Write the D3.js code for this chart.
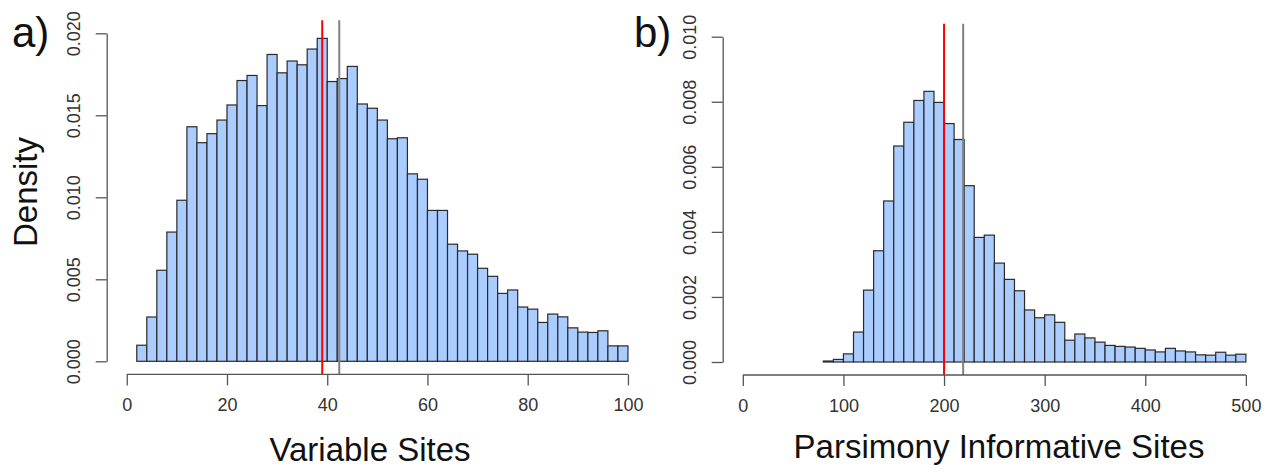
<!DOCTYPE html>
<html>
<head>
<meta charset="utf-8">
<script src="https://cdn.jsdelivr.net/npm/d3@7"></script>
<style>
  body { margin: 0; background: #fff; }
  svg { display: block; font-family: "Liberation Sans", Arial, sans-serif; }
</style>
</head>
<body>
<svg width="1272" height="473"></svg>
<script>
// DATA

// a) Variable Sites, bins of width 2
var binStartsA = [2, 4, 6, 8, 10, 12, 14, 16, 18, 20, 22, 24, 26, 28, 30, 32, 34, 36, 38, 40,
                  42, 44, 46, 48, 50, 52, 54, 56, 58, 60, 62, 64, 66, 68, 70, 72, 74, 76, 78, 80,
                  82, 84, 86, 88, 90, 92, 94, 96, 98];
var densityA = [0.00098, 0.0027, 0.00555, 0.00788, 0.00982, 0.0143, 0.01333, 0.01388, 0.01471, 0.01563,
                0.01712, 0.01743, 0.01559, 0.01871, 0.01759, 0.01831, 0.01808, 0.01904, 0.01969, 0.01706,
                0.01724, 0.01798, 0.01569, 0.01543, 0.01471, 0.01357, 0.01363, 0.01143, 0.0111, 0.0092,
                0.0092, 0.00714, 0.00673, 0.00653, 0.00567, 0.00518, 0.00414, 0.00435, 0.00331, 0.00318,
                0.00237, 0.00288, 0.00271, 0.00204, 0.00178, 0.00176, 0.00186, 0.00094, 0.00094];
var binWidthA = 2;
var linesA = [39, 42.4];          // red, grey
var xTicksA = [0, 20, 40, 60, 80, 100];
var yTicksA = ["0.000", "0.005", "0.010", "0.015", "0.020"];

// b) Parsimony Informative Sites, bins of width 10
var binStartsB = [80, 90, 100, 110, 120, 130, 140, 150, 160, 170, 180, 190, 200, 210, 220, 230, 240,
                  250, 260, 270, 280, 290, 300, 310, 320, 330, 340, 350, 360, 370, 380, 390, 400,
                  410, 420, 430, 440, 450, 460, 470, 480, 490];
var densityB = [0.00003, 0.00008, 0.00025, 0.00092, 0.00221, 0.00342, 0.00495, 0.00664, 0.00737, 0.00804,
                0.00832, 0.00798, 0.00733, 0.00684, 0.00542, 0.00383, 0.0039, 0.00304, 0.00254, 0.00219,
                0.0016, 0.00136, 0.00145, 0.00122, 0.00067, 0.00086, 0.00074, 0.00061, 0.00051, 0.00048,
                0.00046, 0.00042, 0.00037, 0.00031, 0.00042, 0.00034, 0.00031, 0.00022, 0.00021, 0.0003,
                0.00021, 0.00024];
var binWidthB = 10;
var linesB = [200, 219];
var xTicksB = [0, 100, 200, 300, 400, 500];
var yTicksB = ["0.000", "0.002", "0.004", "0.006", "0.008", "0.010"];

var barFill = "#aaccff";
var lineColors = ["#ff0000", "#808080"];

// VIEW

var svg = d3.select("svg");

// draw one histogram panel
function drawPanel(p) {
  var x = d3.scaleLinear().domain(p.xDomain).range(p.xRange),
      y = d3.scaleLinear().domain([0, +p.yTicks[p.yTicks.length - 1]]).range(p.yRange);

  var ySpan = y.domain()[1] * 0.04;
  var top = y(y.domain()[1] + ySpan),
      bottom = y(-ySpan),
      left = p.xRange[0];

  var g = svg.append("g");

  // bars
  g.append("g").selectAll("rect")
    .data(p.starts.map(function(s, i) { return {x0: s, x1: s + p.binWidth, d: p.dens[i]}; }))
    .enter().append("rect")
      .attr("x", function(d) { return x(d.x0); })
      .attr("width", function(d) { return x(d.x1) - x(d.x0); })
      .attr("y", function(d) { return y(d.d); })
      .attr("height", function(d) { return y(0) - y(d.d); })
      .attr("fill", barFill)
      .attr("stroke", "#2a2a2a")
      .attr("stroke-width", 1.2);

  // vertical reference lines
  g.append("g").selectAll("line")
    .data(p.lines)
    .enter().append("line")
      .attr("x1", function(d) { return x(d); })
      .attr("x2", function(d) { return x(d); })
      .attr("y1", top)
      .attr("y2", bottom)
      .attr("stroke", function(d, i) { return lineColors[i]; })
      .attr("stroke-width", 2);

  // x axis
  var xAxis = d3.axisBottom(x).tickValues(p.xTicks).tickSize(11).tickPadding(8).tickSizeOuter(0);
  var gx = g.append("g").attr("transform", "translate(0," + bottom + ")").call(xAxis);
  gx.select(".domain").attr("d", "M" + x(p.xTicks[0]) + ",0H" + x(p.xTicks[p.xTicks.length - 1]));

  // y axis
  var yAxis = d3.axisLeft(y).tickValues(p.yTicks.map(Number)).tickSize(11).tickSizeOuter(0)
    .tickFormat(function(d, i) { return p.yTicks[i]; });
  var gy = g.append("g").attr("transform", "translate(" + left + ",0)").call(yAxis);
  gy.selectAll(".tick text")
    .attr("x", null).attr("dy", null)
    .attr("text-anchor", "middle")
    .attr("transform", "translate(-27,0) rotate(-90)");

  g.selectAll(".domain, .tick line").attr("stroke", "#555").attr("stroke-width", 1.3);
  g.selectAll(".tick text").attr("fill", "#333").attr("font-size", 18)
    .attr("font-family", "Liberation Sans, Arial, sans-serif");
  gx.selectAll(".tick text").attr("dy", "0.71em").attr("y", 24);

  // axis title
  g.append("text")
    .attr("x", p.titleX)
    .attr("y", p.titleY)
    .attr("text-anchor", "middle")
    .attr("font-size", 33)
    .attr("fill", "#111")
    .text(p.title);

  // panel letter
  g.append("text")
    .attr("x", p.letterX)
    .attr("y", 47)
    .attr("font-size", 42)
    .attr("fill", "#111")
    .text(p.letter);
}

drawPanel({
  starts: binStartsA, dens: densityA, binWidth: binWidthA, lines: linesA,
  xTicks: xTicksA, yTicks: yTicksA,
  xDomain: [-4, 104], xRange: [106.7, 648],
  yRange: [361.3, 33.3],
  title: "Variable Sites", titleX: 370, titleY: 461,
  letter: "a)", letterX: 12
});

drawPanel({
  starts: binStartsB, dens: densityB, binWidth: binWidthB, lines: linesB,
  xTicks: xTicksB, yTicks: yTicksB,
  xDomain: [-20, 520], xRange: [722.7, 1266],
  yRange: [362, 36.7],
  title: "Parsimony Informative Sites", titleX: 999, titleY: 458,
  letter: "b)", letterX: 634
});

// y label
svg.append("text")
  .attr("transform", "translate(37,192) rotate(-90)")
  .attr("text-anchor", "middle")
  .attr("font-size", 33)
  .attr("fill", "#111")
  .text("Density");
</script>
</body>
</html>
